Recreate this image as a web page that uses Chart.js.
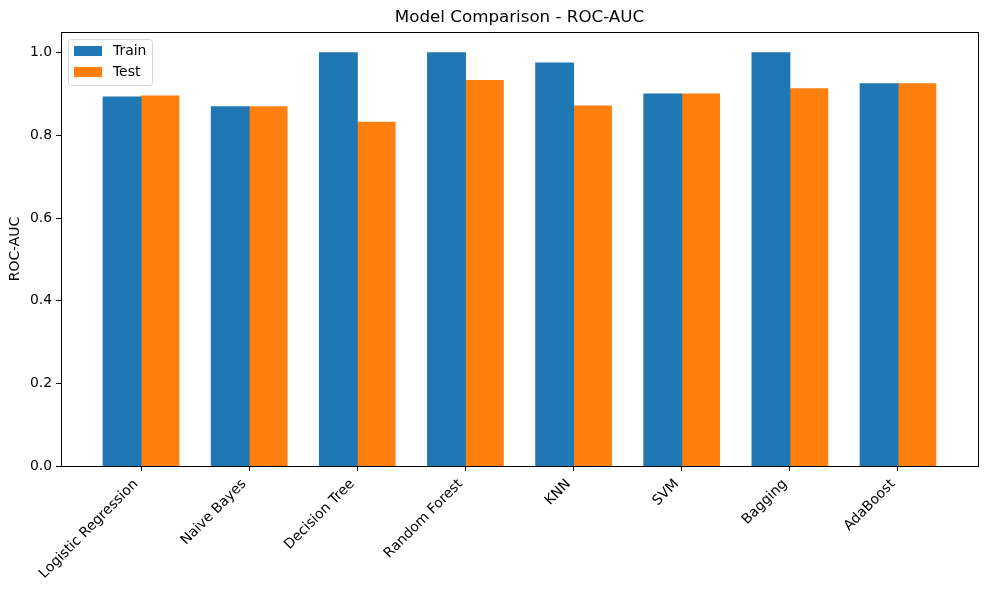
<!DOCTYPE html>
<html>
<head>
<meta charset="utf-8">
<title>Model Comparison - ROC-AUC</title>
<script src="https://cdn.jsdelivr.net/npm/chart.js@4.4.1/dist/chart.umd.min.js"></script>
<style>
  html, body { margin: 0; padding: 0; background: #fff; }
  canvas { display: block; }
</style>
</head>
<body>
<canvas id="myChart" width="989" height="590"></canvas>
<script>
const models = ['Logistic Regression', 'Naive Bayes', 'Decision Tree', 'Random Forest', 'KNN', 'SVM', 'Bagging', 'AdaBoost'];
const trainScores = [0.893, 0.869, 1.0, 1.0, 0.975, 0.900, 1.0, 0.925];
const testScores = [0.895, 0.869, 0.832, 0.933, 0.871, 0.900, 0.913, 0.925];
const yTicks = [0, 0.2, 0.4, 0.6, 0.8, 1.0];

const FONT = 'DejaVu Sans';
Chart.defaults.font.family = FONT;
Chart.defaults.color = '#000';

// matplotlib-like frame + legend drawn inside the plot area
const frameAndLegend = {
    id: 'frameAndLegend',
    afterDraw(chart) {
        const ctx = chart.ctx;
        const a = chart.chartArea;
        ctx.save();
        ctx.strokeStyle = '#000';
        ctx.lineWidth = 1;
        ctx.strokeRect(Math.round(a.left) + 0.5, Math.round(a.top) + 0.5,
            Math.round(a.right - a.left), Math.round(a.bottom - a.top));

        // legend box
        const x0 = a.left + 7, y0 = a.top + 7;
        const w = 84, h = 46;
        ctx.beginPath();
        ctx.roundRect(x0 + 0.5, y0 + 0.5, w, h, 3);
        ctx.fillStyle = 'rgba(255,255,255,0.8)';
        ctx.fill();
        ctx.strokeStyle = '#d6d6d6';
        ctx.stroke();
        ctx.font = '13.9px "' + FONT + '"';
        ctx.textBaseline = 'middle';
        chart.data.datasets.forEach((ds, i) => {
            const py = y0 + 7 + i * 21;
            ctx.fillStyle = ds.backgroundColor;
            ctx.fillRect(x0 + 6, py, 28, 10);
            ctx.fillStyle = '#000';
            ctx.fillText(ds.label, x0 + 45, py + 5);
        });
        ctx.restore();
    }
};

new Chart(document.getElementById('myChart'), {
    type: 'bar',
    data: {
        datasets: [
            {
                label: 'Train',
                backgroundColor: '#1f77b4',
                borderWidth: 0,
                data: trainScores.map((v, i) => ({ x: i, y: v })),
            },
            {
                label: 'Test',
                backgroundColor: '#ff7f0e',
                borderWidth: 0,
                data: testScores.map((v, i) => ({ x: i, y: v })),
            },
        ],
    },
    options: {
        responsive: false,
        animation: false,
        layout: { padding: { left: 0, right: 11, top: 0, bottom: 0 } },
        datasets: {
            bar: { categoryPercentage: 0.7, barPercentage: 1.0, borderWidth: 0, inflateAmount: 0.5 }
        },
        plugins: {
            legend: { display: false },
            tooltip: { enabled: false },
            title: {
                display: true,
                fullSize: false,
                text: 'Model Comparison - ROC-AUC',
                color: '#000',
                font: { size: 16.7, weight: 'normal' },
                padding: { top: 8, bottom: 4 },
            },
        },
        scales: {
            x: {
                type: 'linear',
                min: -0.74,
                max: 7.74,
                offset: false,
                afterBuildTicks: (axis) => { axis.ticks = models.map((m, i) => ({ value: i })); },
                afterFit: (axis) => { axis.height = 124; },
                ticks: {
                    callback: (v) => models[v],
                    minRotation: 45,
                    maxRotation: 45,
                    autoSkip: false,
                    padding: 5,
                    labelOffset: -5,
                    font: { size: 13.9 },
                    color: '#000',
                },
                grid: { offset: false, drawOnChartArea: false, tickLength: 5, color: '#000' },
                border: { display: false },
            },
            y: {
                min: 0,
                max: 1.05,
                afterBuildTicks: (axis) => { axis.ticks = yTicks.map(v => ({ value: v })); },
                afterFit: (axis) => { axis.width = 61; },
                ticks: {
                    callback: (v) => v.toFixed(1),
                    padding: 4,
                    font: { size: 13.9 },
                    color: '#000',
                },
                grid: { drawOnChartArea: false, tickLength: 5, color: '#000' },
                border: { display: false },
                title: {
                    display: true,
                    text: 'ROC-AUC',
                    color: '#000',
                    font: { size: 13.9 },
                    padding: { top: 7, bottom: 0 },
                },
            },
        },
    },
    plugins: [frameAndLegend],
});
</script>
</body>
</html>
